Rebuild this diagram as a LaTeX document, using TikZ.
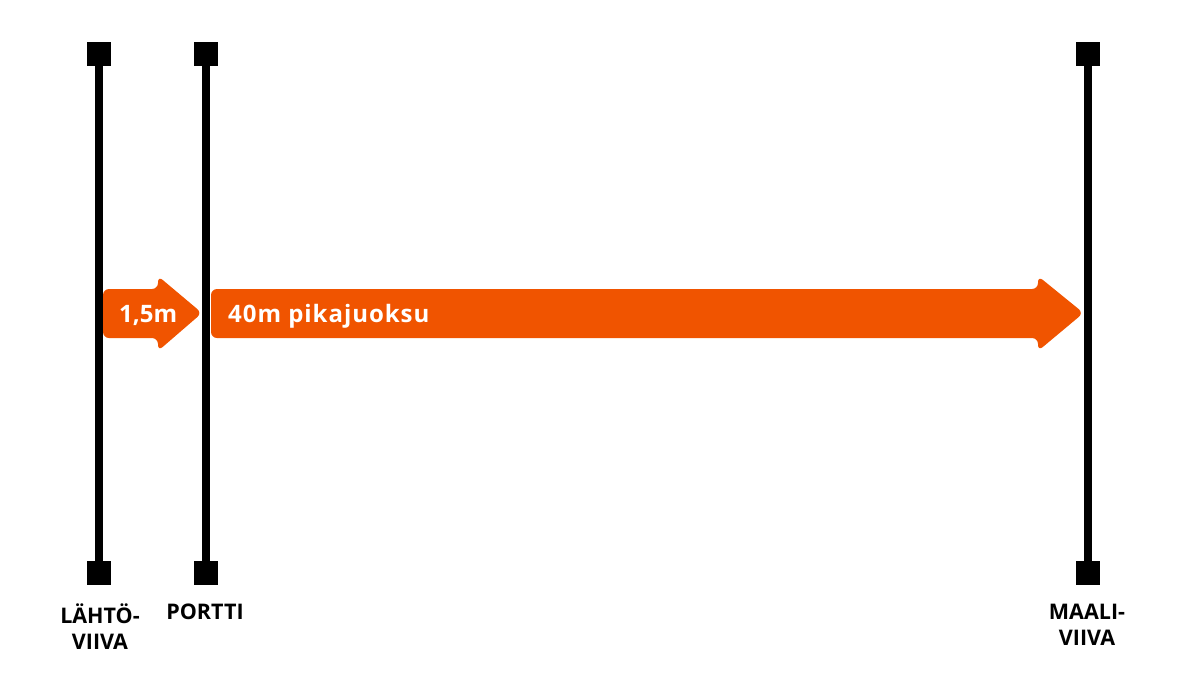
\documentclass[tikz,border=0pt]{standalone}
\usepackage{fontspec}
\setmainfont{Open Sans}
\usepackage{xcolor}
\definecolor{runorange}{RGB}{240,84,0}

\begin{document}
\begin{tikzpicture}[x=1pt,y=-1pt,
    post/.style={fill=black,inner sep=0,minimum size=24pt},
    pole/.style={line width=8pt,black},
    run/.style={fill=runorange,rounded corners=6pt},
    runtext/.style={text=white,font=\bfseries\fontsize{24}{28}\selectfont,
        inner sep=0,anchor=base west},
    linetext/.style={font=\bfseries\fontsize{21.5}{25.5}\selectfont,
        align=center,inner sep=0,anchor=north}]
    \useasboundingbox (0,0) rectangle (1198,674);

    \path (99, 54) node [post] (lt) {};
    \path (99, 573) node [post] (lb) {};
    \draw [pole] (lt) -- (lb);
    \path (206, 54) node [post] (pt) {};
    \path (206, 573) node [post] (pb) {};
    \draw [pole] (pt) -- (pb);
    \path (1087.5, 54) node [post] (mt) {};
    \path (1087.5, 573) node [post] (mb) {};
    \draw [pole] (mt) -- (mb);

    \fill [run] (103, 289) -- (158, 289) -- (158, 276) -- (202, 313)
        -- (158, 351) -- (158, 338) -- (103, 338) -- cycle;
    \path (119, 322) node [runtext] (gap) {1,5m};
    \fill [run] (211, 289) -- (1038, 289) -- (1038, 276) -- (1083.5, 313)
        -- (1038, 351) -- (1038, 338) -- (211, 338) -- cycle;
    \path (228, 322) node [runtext] (sprint)
        {\addfontfeature{LetterSpace=4}40m pikajuoksu};

    \path (100, 604) node [linetext] (start) {LÄHTÖ-\\VIIVA};
    \path (205, 604) node [linetext] (gate) {PORTTI};
    \path (1087, 604) node [linetext] (finish) {MAALI-\\VIIVA};
\end{tikzpicture}
\end{document}
